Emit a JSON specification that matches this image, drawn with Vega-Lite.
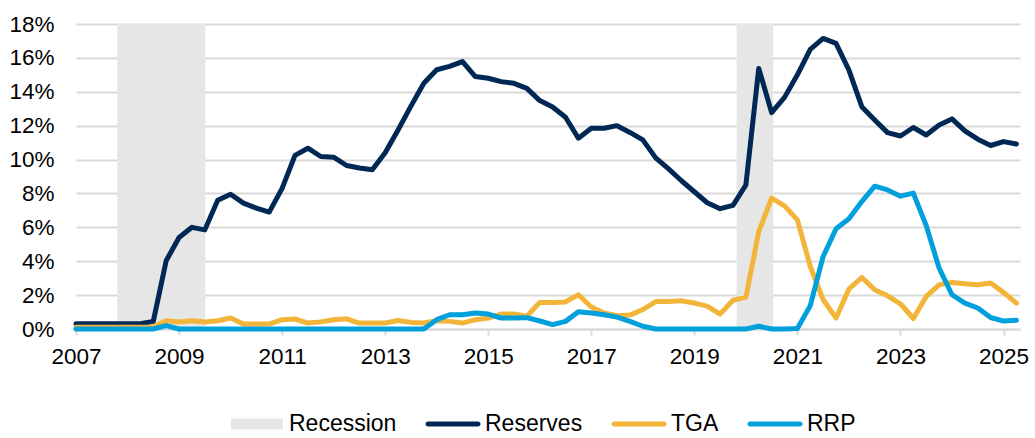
{
  "$schema": "https://vega.github.io/schema/vega-lite/v6.json",
  "width": 944,
  "height": 305,
  "autosize": {"type": "none"},
  "padding": {"left": 76, "top": 24, "right": 15, "bottom": 109},
  "config": {
    "font": "Liberation Sans",
    "view": {"stroke": null},
    "axis": {"labelFontSize": 22.5, "labelColor": "#000000", "title": null, "labelOverlap": false},
    "legend": {
      "orient": "none", "legendX": 156, "legendY": 375,
      "direction": "horizontal", "title": null,
      "symbolSize": 2500,
      "labelFontSize": 23, "labelColor": "#000000", "labelOffset": 7,
      "columnPadding": 28, "padding": 0, "labelLimit": 300
    }
  },
  "encoding": {
    "x": {
      "type": "quantitative",
      "scale": {"domain": [2007, 2025.32], "nice": false, "zero": false},
      "axis": {
        "title": null,
        "values": [2007, 2009, 2011, 2013, 2015, 2017, 2019, 2021, 2023, 2025],
        "format": "d", "grid": false,
        "domainColor": "#d9d9d9", "domainWidth": 2,
        "tickColor": "#d9d9d9", "tickWidth": 2, "tickSize": 6,
        "labelFontSize": 22.5, "labelColor": "#000000",
        "labelPadding": 10, "labelFlush": false, "labelOverlap": false
      }
    },
    "y": {
      "type": "quantitative",
      "scale": {"domain": [0, 18], "nice": false},
      "axis": {
        "title": null,
        "values": [0, 2, 4, 6, 8, 10, 12, 14, 16, 18],
        "labelExpr": "datum.value + '%'",
        "labelFontSize": 22.5, "labelColor": "#000000", "labelOverlap": false,
        "grid": true, "gridColor": "#d9d9d9", "gridWidth": 2,
        "domain": false, "ticks": false, "labelPadding": 22
      }
    },
    "color": {
      "field": "series", "type": "nominal",
      "scale": {"domain": ["Recession", "Reserves", "TGA", "RRP"], "range": ["#e6e6e6", "#002855", "#f2b53a", "#00a0dc"]},
      "legend": {
        "title": null,
        "symbolType": "square",
        "encode": {
          "symbols": {
            "update": {
              "shape": {"signal": "datum.value === 'Recession' ? 'M-1.04,-0.22H1.04V0.22H-1.04Z' : 'M-1,-0.1H1A0.1,0.1,0,0,1,1,0.1H-1A0.1,0.1,0,0,1,-1,-0.1Z'"},
              "fill": {"scale": "color", "field": "value"},
              "stroke": {"value": "transparent"},
              "strokeWidth": {"value": 0},
              "opacity": {"value": 1}
            }
          }
        }
      }
    }
  },
  "layer": [
    {
      "data": {"values": [
        {"start": 2007.8, "end": 2009.51, "series": "Recession"},
        {"start": 2019.82, "end": 2020.53, "series": "Recession"}
      ]},
      "mark": {"type": "rect"},
      "encoding": {
        "x": {"field": "start", "type": "quantitative"},
        "x2": {"field": "end"},
        "y": {"datum": 18, "type": "quantitative"},
        "y2": {"datum": 0}
      }
    },
    {
      "data": {"values": [
        {"t": 2007, "Reserves": 0.31, "TGA": 0.1, "RRP": 0},
        {"t": 2007.25, "Reserves": 0.31, "TGA": 0.1, "RRP": 0},
        {"t": 2007.5, "Reserves": 0.31, "TGA": 0.1, "RRP": 0},
        {"t": 2007.75, "Reserves": 0.31, "TGA": 0.1, "RRP": 0},
        {"t": 2008, "Reserves": 0.31, "TGA": 0.1, "RRP": 0},
        {"t": 2008.25, "Reserves": 0.31, "TGA": 0.1, "RRP": 0},
        {"t": 2008.5, "Reserves": 0.45, "TGA": 0.12, "RRP": 0},
        {"t": 2008.75, "Reserves": 4.03, "TGA": 0.49, "RRP": 0.2},
        {"t": 2009, "Reserves": 5.4, "TGA": 0.41, "RRP": 0},
        {"t": 2009.25, "Reserves": 6.0, "TGA": 0.49, "RRP": 0},
        {"t": 2009.5, "Reserves": 5.85, "TGA": 0.41, "RRP": 0},
        {"t": 2009.75, "Reserves": 7.6, "TGA": 0.49, "RRP": 0},
        {"t": 2010, "Reserves": 7.95, "TGA": 0.65, "RRP": 0},
        {"t": 2010.25, "Reserves": 7.43, "TGA": 0.29, "RRP": 0},
        {"t": 2010.5, "Reserves": 7.13, "TGA": 0.29, "RRP": 0},
        {"t": 2010.75, "Reserves": 6.9, "TGA": 0.29, "RRP": 0},
        {"t": 2011, "Reserves": 8.3, "TGA": 0.55, "RRP": 0},
        {"t": 2011.25, "Reserves": 10.25, "TGA": 0.59, "RRP": 0},
        {"t": 2011.5, "Reserves": 10.67, "TGA": 0.35, "RRP": 0},
        {"t": 2011.75, "Reserves": 10.18, "TGA": 0.42, "RRP": 0},
        {"t": 2012, "Reserves": 10.14, "TGA": 0.55, "RRP": 0},
        {"t": 2012.25, "Reserves": 9.65, "TGA": 0.6, "RRP": 0},
        {"t": 2012.5, "Reserves": 9.5, "TGA": 0.35, "RRP": 0},
        {"t": 2012.75, "Reserves": 9.4, "TGA": 0.35, "RRP": 0},
        {"t": 2013, "Reserves": 10.4, "TGA": 0.35, "RRP": 0},
        {"t": 2013.25, "Reserves": 11.75, "TGA": 0.5, "RRP": 0},
        {"t": 2013.5, "Reserves": 13.15, "TGA": 0.39, "RRP": 0},
        {"t": 2013.75, "Reserves": 14.5, "TGA": 0.35, "RRP": 0},
        {"t": 2014, "Reserves": 15.3, "TGA": 0.49, "RRP": 0.55},
        {"t": 2014.25, "Reserves": 15.5, "TGA": 0.45, "RRP": 0.84},
        {"t": 2014.5, "Reserves": 15.78, "TGA": 0.35, "RRP": 0.84},
        {"t": 2014.75, "Reserves": 14.9, "TGA": 0.55, "RRP": 0.94},
        {"t": 2015, "Reserves": 14.8, "TGA": 0.65, "RRP": 0.88},
        {"t": 2015.25, "Reserves": 14.6, "TGA": 0.88, "RRP": 0.65},
        {"t": 2015.5, "Reserves": 14.5, "TGA": 0.88, "RRP": 0.65},
        {"t": 2015.75, "Reserves": 14.2, "TGA": 0.75, "RRP": 0.67},
        {"t": 2016, "Reserves": 13.48, "TGA": 1.57, "RRP": 0.47},
        {"t": 2016.25, "Reserves": 13.1, "TGA": 1.57, "RRP": 0.26},
        {"t": 2016.5, "Reserves": 12.5, "TGA": 1.6, "RRP": 0.45},
        {"t": 2016.75, "Reserves": 11.26, "TGA": 2.02, "RRP": 1.02},
        {"t": 2017, "Reserves": 11.85, "TGA": 1.3, "RRP": 0.94},
        {"t": 2017.25, "Reserves": 11.85, "TGA": 0.95, "RRP": 0.84},
        {"t": 2017.5, "Reserves": 12.0, "TGA": 0.78, "RRP": 0.7},
        {"t": 2017.75, "Reserves": 11.6, "TGA": 0.82, "RRP": 0.45},
        {"t": 2018, "Reserves": 11.16, "TGA": 1.15, "RRP": 0.16},
        {"t": 2018.25, "Reserves": 10.1, "TGA": 1.62, "RRP": 0},
        {"t": 2018.5, "Reserves": 9.45, "TGA": 1.63, "RRP": 0},
        {"t": 2018.75, "Reserves": 8.75, "TGA": 1.66, "RRP": 0},
        {"t": 2019, "Reserves": 8.1, "TGA": 1.53, "RRP": 0},
        {"t": 2019.25, "Reserves": 7.45, "TGA": 1.35, "RRP": 0},
        {"t": 2019.5, "Reserves": 7.1, "TGA": 0.88, "RRP": 0},
        {"t": 2019.75, "Reserves": 7.3, "TGA": 1.7, "RRP": 0},
        {"t": 2020, "Reserves": 8.5, "TGA": 1.88, "RRP": 0},
        {"t": 2020.25, "Reserves": 15.38, "TGA": 5.75, "RRP": 0.16},
        {"t": 2020.5, "Reserves": 12.77, "TGA": 7.72, "RRP": 0},
        {"t": 2020.75, "Reserves": 13.67, "TGA": 7.27, "RRP": 0},
        {"t": 2021, "Reserves": 15.0, "TGA": 6.44, "RRP": 0.03},
        {"t": 2021.25, "Reserves": 16.5, "TGA": 3.69, "RRP": 1.38},
        {"t": 2021.5, "Reserves": 17.15, "TGA": 1.73, "RRP": 4.28},
        {"t": 2021.75, "Reserves": 16.86, "TGA": 0.65, "RRP": 5.92},
        {"t": 2022, "Reserves": 15.28, "TGA": 2.36, "RRP": 6.5},
        {"t": 2022.25, "Reserves": 13.12, "TGA": 3.04, "RRP": 7.52},
        {"t": 2022.5, "Reserves": 12.34, "TGA": 2.32, "RRP": 8.43},
        {"t": 2022.75, "Reserves": 11.59, "TGA": 1.96, "RRP": 8.21},
        {"t": 2023, "Reserves": 11.39, "TGA": 1.49, "RRP": 7.84},
        {"t": 2023.25, "Reserves": 11.89, "TGA": 0.62, "RRP": 8.02},
        {"t": 2023.5, "Reserves": 11.45, "TGA": 1.92, "RRP": 6.1},
        {"t": 2023.75, "Reserves": 12.04, "TGA": 2.61, "RRP": 3.6},
        {"t": 2024, "Reserves": 12.4, "TGA": 2.75, "RRP": 2.02},
        {"t": 2024.25, "Reserves": 11.69, "TGA": 2.67, "RRP": 1.53},
        {"t": 2024.5, "Reserves": 11.2, "TGA": 2.61, "RRP": 1.24},
        {"t": 2024.75, "Reserves": 10.83, "TGA": 2.71, "RRP": 0.68},
        {"t": 2025, "Reserves": 11.06, "TGA": 2.16, "RRP": 0.47},
        {"t": 2025.25, "Reserves": 10.92, "TGA": 1.53, "RRP": 0.51}
      ]},
      "transform": [{"fold": ["Reserves", "TGA", "RRP"], "as": ["series", "v"]}],
      "mark": {"type": "line", "strokeWidth": 5, "strokeJoin": "round", "strokeCap": "round"},
      "encoding": {
        "x": {"field": "t", "type": "quantitative"},
        "y": {"field": "v", "type": "quantitative"}
      }
    }
  ]
}
